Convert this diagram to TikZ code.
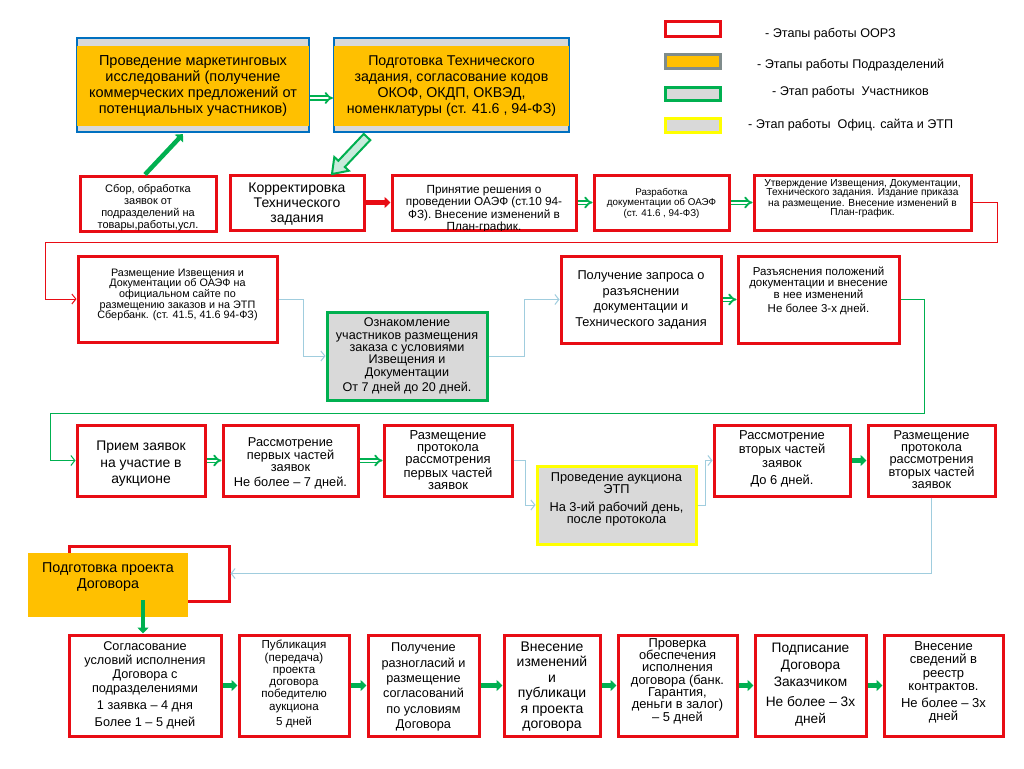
\documentclass[tikz,border=0pt]{standalone}
\usepackage{fontspec}
\setmainfont{Liberation Sans}
\usetikzlibrary{arrows.meta,calc}
\definecolor{ored}{RGB}{232,12,20}
\definecolor{ogreen}{RGB}{0,176,80}
\definecolor{oorange}{RGB}{255,192,0}
\definecolor{ogrey}{RGB}{217,217,217}
\definecolor{oblue}{RGB}{0,112,192}
\definecolor{olblue}{RGB}{160,205,222}
\definecolor{ogborder}{RGB}{127,140,140}
\definecolor{oyellow}{RGB}{255,255,0}
\definecolor{oblock}{RGB}{200,235,220}
\newcommand\myfs[2]{\fontsize{#1}{#2}\selectfont}
\tikzset{
  oorz/.style={draw=ored, line width=3pt, fill=white, inner sep=0pt},
  partbox/.style={draw=ogreen, line width=3pt, fill=ogrey, inner sep=0pt},
  etpbox/.style={draw=oyellow, line width=3pt, fill=ogrey, inner sep=0pt},
  topbox/.style={draw=oblue, line width=2.2pt, fill=ogrey, inner sep=0pt},
  txt/.style={align=center, inner sep=0pt},
  dbl/.style={draw=ogreen, line width=1.8pt, double=white, double distance=2pt, -{Implies}},
  garrow/.style={draw=ogreen, line width=4.5pt, -{Triangle[length=6pt,width=11pt]}},
  rarrow/.style={draw=ored, line width=4.5pt, -{Triangle[length=6pt,width=11pt]}},
  lbline/.style={draw=olblue, line width=1pt, -{Straight Barb[length=4pt,width=10pt]}},
  gline/.style={draw=ogreen, line width=1pt, -{Straight Barb[length=4pt,width=10pt]}},
  rline/.style={draw=ored, line width=1pt, -{Straight Barb[length=4pt,width=10pt]}},
}
\begin{document}
\begin{tikzpicture}[x=1pt,y=-1pt]
\useasboundingbox (0,0) rectangle (1024,768);

% ---------- legend ----------
\node[draw=ored, line width=3pt, fill=white, minimum width=55pt, minimum height=15pt, inner sep=0pt] (L1) at (693,29) {};
\node[draw=ogborder, line width=3pt, fill=oorange, minimum width=55pt, minimum height=14pt, inner sep=0pt] (L2) at (693,61.5) {};
\node[draw=ogreen, line width=3pt, fill=ogrey, minimum width=55pt, minimum height=13pt, inner sep=0pt] (L3) at (693,94) {};
\node[draw=oyellow, line width=3pt, fill=ogrey, minimum width=55pt, minimum height=14pt, inner sep=0pt] (L4) at (693,125.5) {};
\node[txt, anchor=west, font=\myfs{12.6}{14}] (L1t) at (765,34) {- Этапы работы ООРЗ};
\node[txt, anchor=west, font=\myfs{12.6}{14}] (L2t) at (757,65) {- Этапы работы Подразделений};
\node[txt, anchor=west, font=\myfs{12.6}{14}] (L3t) at (772,92) {- Этап работы\ \ Участников};
\node[txt, anchor=west, font=\myfs{12.6}{14}] (L4t) at (748,125) {- Этап работы\ \ Офиц. сайта и ЭТП};

% ---------- top boxes ----------
\node[topbox, minimum width=232pt, minimum height=94pt] (p1) at (193,85) {};
\fill[oorange] ([xshift=1.1pt,yshift=7pt]p1.south west) rectangle ([xshift=-1.1pt,yshift=-9pt]p1.north east);
\node[txt, font=\myfs{14.5}{16}] (p1t) at (193,86) {Проведение маркетинговых\\исследований (получение\\коммерческих предложений от\\потенциальных участников)};
\node[topbox, minimum width=235pt, minimum height=94pt] (p2) at (451.5,85) {};
\fill[oorange] ([xshift=1.1pt,yshift=7pt]p2.south west) rectangle ([xshift=-1.1pt,yshift=-9pt]p2.north east);
\node[txt, font=\myfs{14.2}{16}] (p2t) at (451.5,86) {Подготовка Технического\\задания, согласование кодов\\ОКОФ, ОКДП, ОКВЭД,\\номенклатуры (ст. 41.6 , 94-ФЗ)};
\draw[dbl] ([yshift=-13pt]p1.east) -- ([yshift=-13pt]p2.west);

% ---------- row 2 ----------
\node[oorz, minimum width=136pt, minimum height=55pt] (s1) at (148,203.5) {};
\begin{scope}
\clip ([xshift=1.5pt,yshift=1.5pt]s1.south west) rectangle ([xshift=-1.5pt,yshift=-1.5pt]s1.north east);
\node[txt, font=\myfs{11}{11.8}] (s1t) at (148,207.5) {Сбор, обработка\\заявок от\\подразделений на\\товары,работы,усл.};
\end{scope}
\node[oorz, minimum width=134pt, minimum height=55pt] (s2) at (297,202.5) {};
\node[txt, font=\myfs{14}{15}] (s2t) at (297,204) {Корректировка\\Технического\\задания};
\node[oorz, minimum width=184pt, minimum height=55pt] (s3) at (484,202.5) {};
\begin{scope}
\clip ([xshift=1.5pt,yshift=1.5pt]s3.south west) rectangle ([xshift=-1.5pt,yshift=-1.5pt]s3.north east);
\node[txt, font=\myfs{11.8}{12.5}] (s3t) at (484,209) {Принятие решения о\\проведении ОАЭФ (ст.10 94-\\ФЗ). Внесение изменений в\\План-график.};
\end{scope}
\node[oorz, minimum width=135pt, minimum height=55pt] (s4) at (661.5,202.5) {};
\node[txt, font=\myfs{9.8}{10.5}] (s4t) at (661.5,203) {Разработка\\документации об ОАЭФ\\(ст. 41.6 , 94-ФЗ)};
\node[oorz, minimum width=217pt, minimum height=55pt] (s5) at (862.5,202.5) {};
\node[txt, font=\myfs{10.2}{9.6}] (s5t) at (862.5,198.5) {Утверждение Извещения, Документации,\\Технического задания. Издание приказа\\на размещение. Внесение изменений в\\План-график.};

\draw[garrow] ([xshift=-3pt]s1.north) -- ([xshift=-10pt,yshift=-1pt]p1.south);
\begin{scope}[shift={(367,137)}, rotate=226.6]
\filldraw[draw=ogreen, line width=2pt, fill=oblock] (0,-4.5) -- (37,-4.5) -- (37,-10) -- (51,0) -- (37,10) -- (37,4.5) -- (0,4.5) -- cycle;
\end{scope}
\draw[rarrow] (s2.east) -- (s3.west);
\draw[dbl] (s3.east) -- (s4.west);
\draw[dbl] (s4.east) -- (s5.west);

% ---------- row 3 ----------
\coordinate (c2) at (45,242);
\node[oorz, minimum width=199pt, minimum height=86pt] (r1) at (177.5,299) {};
\node[txt, font=\myfs{10.8}{10.6}] (r1t) at (177.5,295) {Размещение Извещения и\\Документации об ОАЭФ на\\официальном сайте по\\размещению заказов и на ЭТП\\Сбербанк. (ст. 41.5, 41.6 94-ФЗ)};
\node[partbox, minimum width=160pt, minimum height=88pt] (r2) at (407,356) {};
\node[txt, font=\myfs{12.6}{12.3}] (r2t) at (407,356) {Ознакомление\\участников размещения\\заказа с условиями\\Извещения и\\Документации\\[3pt]От 7 дней до 20 дней.};
\node[oorz, minimum width=160pt, minimum height=87pt] (r3) at (641,299.5) {};
\node[txt, font=\myfs{12.8}{15.5}] (r3t) at (641,300) {Получение запроса о\\разъяснении\\документации и\\Технического задания};
\node[oorz, minimum width=161pt, minimum height=87pt] (r4) at (818.5,299.5) {};
\node[txt, font=\myfs{11.5}{10.2}] (r4t) at (818.5,291) {Разъяснения положений\\документации и внесение\\в нее изменений\\[4pt]Не более 3-х дней.};

\draw[rline] (s5.east) -- ++(25,0) |- (c2) |- (r1.west);
\draw[lbline] (r1.east) -- ++(25,0) |- (r2.west);
\draw[lbline] (r2.east) -- ++(36,0) |- (r3.west);
\draw[dbl] (r3.east) -- (r4.west);

% ---------- row 4 ----------
\coordinate (c1) at (50,413);
\node[oorz, minimum width=128pt, minimum height=71pt] (q1) at (141,460.5) {};
\node[txt, font=\myfs{13.9}{16.5}] (q1t) at (141,464) {Прием заявок\\на участие в\\аукционе};
\node[oorz, minimum width=135pt, minimum height=71pt] (q2) at (290.5,460.5) {};
\node[txt, font=\myfs{12.8}{12}] (q2t) at (290.5,463) {Рассмотрение\\первых частей\\заявок\\[3pt]Не более – 7 дней.};
\node[oorz, minimum width=128pt, minimum height=71pt] (q3) at (448,460.5) {};
\node[txt, font=\myfs{13}{12}] (q3t) at (448,460) {Размещение\\протокола\\рассмотрения\\первых частей\\заявок};
\node[etpbox, minimum width=159pt, minimum height=78pt] (q4) at (616.5,505) {};
\node[txt, font=\myfs{12.8}{11.7}] (q4t) at (616.5,499.5) {Проведение аукциона\\ЭТП\\[7pt]На 3-ий рабочий день,\\после протокола};
\node[oorz, minimum width=136pt, minimum height=71pt] (q5) at (782,460.5) {};
\node[txt, font=\myfs{12.9}{14}] (q5t) at (782,459) {Рассмотрение\\вторых частей\\заявок\\[3pt]До 6 дней.};
\node[oorz, minimum width=127pt, minimum height=71pt] (q6) at (931.5,460.5) {};
\node[txt, font=\myfs{12.8}{12}] (q6t) at (931.5,460) {Размещение\\протокола\\рассмотрения\\вторых частей\\заявок};

\draw[gline] (r4.east) -- ++(24,0) |- (c1) |- (q1.west);
\draw[dbl] (q1.east) -- (q2.west);
\draw[dbl] (q2.east) -- (q3.west);
\draw[lbline] (q3.east) -- ++(12,0) |- (q4.west);
\draw[lbline] (q4.east) -- ++(8,0) |- (q5.west);
\draw[garrow] (q5.east) -- (q6.west);

% ---------- row 5 ----------
\node[oorz, minimum width=160pt, minimum height=55pt] (e1) at (149,573.5) {};
\node[fill=oorange, minimum width=160pt, minimum height=64pt, inner sep=0pt] (o1) at (108,585) {};
\node[txt, font=\myfs{14.3}{16.7}] (o1t) at (108,577) {Подготовка проекта\\Договора};
\draw[lbline] (q6.south) |- (e1.east);

% ---------- row 6 ----------
\node[oorz, minimum width=152pt, minimum height=101pt] (t1) at (145,685.5) {};
\node[txt, font=\myfs{12.7}{14}] (t1t) at (145,685) {Согласование\\условий исполнения\\Договора с\\подразделениями\\[3pt]1 заявка – 4 дня\\[3pt]Более 1 – 5 дней};
\node[oorz, minimum width=110pt, minimum height=101pt] (t2) at (294,685.5) {};
\node[txt, font=\myfs{11.6}{12.3}] (t2t) at (294,684) {Публикация\\(передача)\\проекта\\договора\\победителю\\аукциона\\[3pt]5 дней};
\node[oorz, minimum width=111pt, minimum height=101pt] (t3) at (423.5,685.5) {};
\node[txt, font=\myfs{12.7}{15.3}] (t3t) at (423.5,687) {Получение\\разногласий и\\размещение\\согласований\\по условиям\\Договора};
\node[oorz, minimum width=96pt, minimum height=101pt] (t4) at (552,685.5) {};
\node[txt, font=\myfs{14}{15.5}] (t4t) at (552,686.5) {Внесение\\изменений\\и\\публикаци\\я проекта\\договора};
\node[oorz, minimum width=119pt, minimum height=101pt] (t5) at (677.5,685.5) {};
\node[txt, font=\myfs{12.9}{12.2}] (t5t) at (677.5,681.5) {Проверка\\обеспечения\\исполнения\\договора (банк.\\Гарантия,\\деньги в залог)\\– 5 дней};
\node[oorz, minimum width=111pt, minimum height=101pt] (t6) at (810.5,685.5) {};
\node[txt, font=\myfs{13.7}{17}] (t6t) at (810.5,685) {Подписание\\Договора\\Заказчиком\\[3pt]Не более – 3х\\дней};
\node[oorz, minimum width=119pt, minimum height=101pt] (t7) at (943.5,685.5) {};
\node[txt, font=\myfs{13}{13.5}] (t7t) at (943.5,682.5) {Внесение\\сведений в\\реестр\\контрактов.\\[3pt]Не более – 3х\\дней};

\coordinate (g0) at (143,600);
\draw[garrow] (g0) -- (g0 |- t1.north);
\draw[garrow] (t1.east) -- (t2.west);
\draw[garrow] (t2.east) -- (t3.west);
\draw[garrow] (t3.east) -- (t4.west);
\draw[garrow] (t4.east) -- (t5.west);
\draw[garrow] (t5.east) -- (t6.west);
\draw[garrow] (t6.east) -- (t7.west);
\end{tikzpicture}
\end{document}
